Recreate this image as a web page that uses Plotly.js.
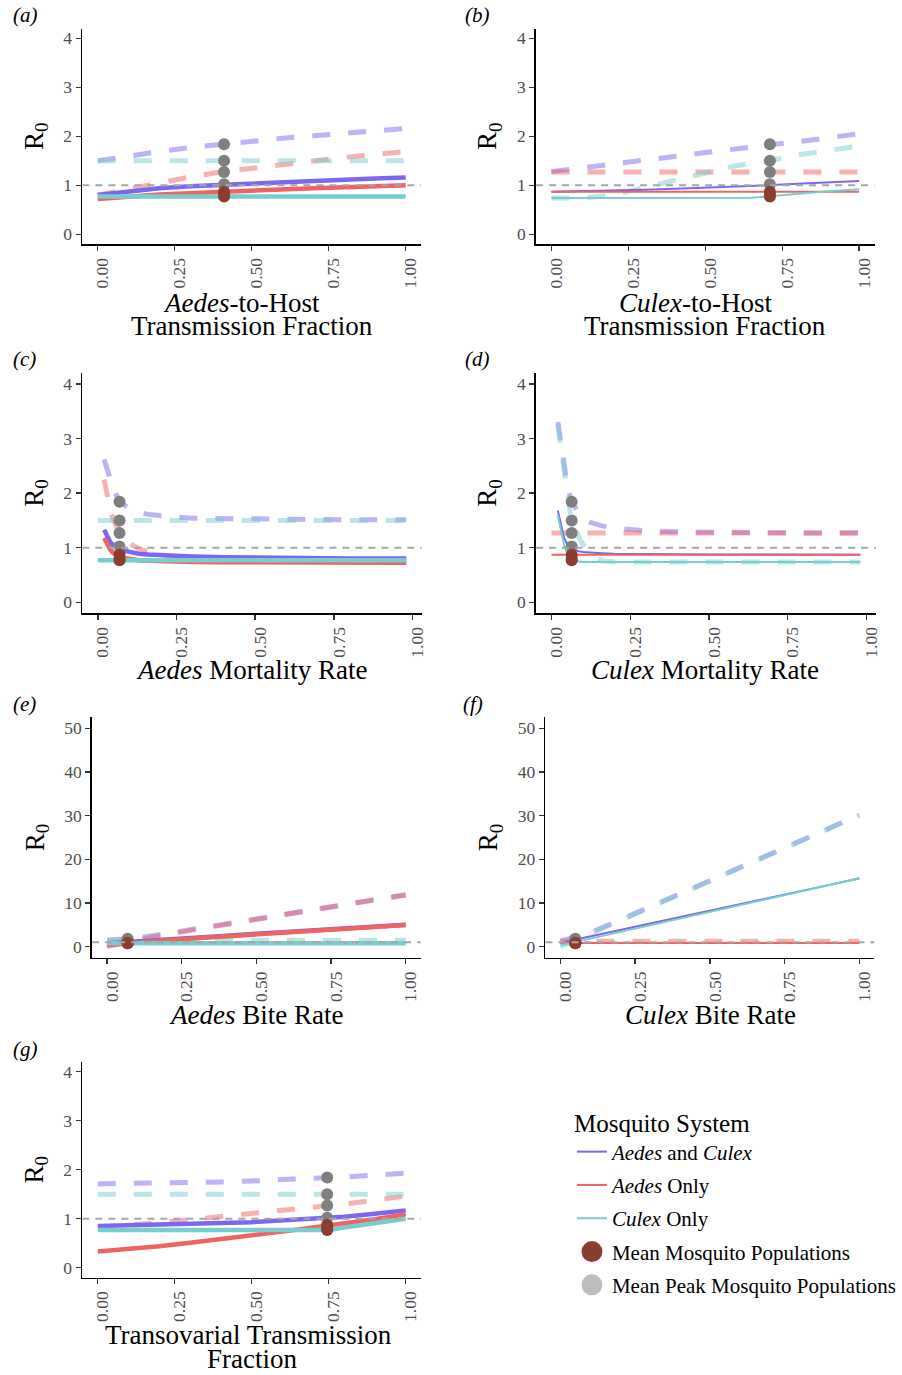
<!DOCTYPE html>
<html><head><meta charset="utf-8">
<script src="https://cdn.plot.ly/plotly-3.0.1.min.js"></script>
<style>html,body{margin:0;padding:0;background:#fff;} #chart{width:902px;height:1375px;}</style>
</head><body><div id="chart"></div>
<script>
// ---------------- DATA ----------------
const xTickVals = [0, 0.25, 0.5, 0.75, 1];
const yTicksR0 = [0, 1, 2, 3, 4];
const yTicksBite = [0, 10, 20, 30, 40, 50];
const thresholdR0 = 1;

const systemNames = ['<i>Aedes</i> and <i>Culex</i>', '<i>Aedes</i> Only', '<i>Culex</i> Only'];
const pointNames = ['Mean Mosquito Populations', 'Mean Peak Mosquito Populations'];
const panelLetters = ['(a)', '(b)', '(c)', '(d)', '(e)', '(f)', '(g)'];
const xTitleLines = [
  ['<i>Aedes</i>-to-Host', 'Transmission Fraction'],
  ['<i>Culex</i>-to-Host', 'Transmission Fraction'],
  ['<i>Aedes</i> Mortality Rate'],
  ['<i>Culex</i> Mortality Rate'],
  ['<i>Aedes</i> Bite Rate'],
  ['<i>Culex</i> Bite Rate'],
  ['Transovarial Transmission', 'Fraction']
];

// parameter value at which the reference points are drawn, one per panel
const defaultParam = [0.41, 0.71, 0.069, 0.064, 0.069, 0.05, 0.745];
const peakPointsR0 = [1.84, 1.50, 1.27, 1.02];
const meanPointsR0 = [0.87, 0.80, 0.77];

// (a) Aedes-to-host transmission fraction
const xA = [0, 0.1, 0.2, 0.3, 0.4, 0.5, 0.6, 0.7, 0.8, 0.9, 1.0];
const aBothMean  = [0.80, 0.88, 0.94, 0.98, 1.01, 1.04, 1.07, 1.10, 1.12, 1.14, 1.16];
const aAedesMean = [0.72, 0.77, 0.81, 0.84, 0.87, 0.89, 0.92, 0.94, 0.96, 0.98, 1.00];
const aCulexMean = [0.77, 0.77, 0.77, 0.77, 0.77, 0.77, 0.77, 0.77, 0.77, 0.77, 0.77];
const aBothPeak  = [1.50, 1.60, 1.69, 1.77, 1.84, 1.90, 1.96, 2.01, 2.06, 2.11, 2.16];
const aAedesPeak = [0.80, 0.93, 1.05, 1.17, 1.27, 1.35, 1.43, 1.50, 1.57, 1.63, 1.69];
const aCulexPeak = [1.50, 1.50, 1.50, 1.50, 1.50, 1.50, 1.50, 1.50, 1.50, 1.50, 1.50];

// (b) Culex-to-host transmission fraction
const xB = [0, 0.1, 0.2, 0.3, 0.4, 0.5, 0.6, 0.65, 0.7, 0.8, 0.9, 1.0];
const bBothMean  = [0.87, 0.88, 0.89, 0.91, 0.93, 0.95, 0.97, 0.985, 1.00, 1.03, 1.06, 1.09];
const bAedesMean = [0.87, 0.87, 0.87, 0.87, 0.87, 0.87, 0.87, 0.87, 0.87, 0.87, 0.87, 0.87];
const bCulexMean = [0.74, 0.74, 0.74, 0.74, 0.74, 0.74, 0.74, 0.745, 0.77, 0.83, 0.88, 0.92];
const bBothPeak  = [1.28, 1.36, 1.44, 1.51, 1.59, 1.67, 1.74, 1.78, 1.82, 1.89, 1.97, 2.05];
const bAedesPeak = [1.27, 1.27, 1.27, 1.27, 1.27, 1.27, 1.27, 1.27, 1.27, 1.27, 1.27, 1.27];
const bCulexPeak = [0.74, 0.74, 0.80, 0.95, 1.12, 1.27, 1.40, 1.45, 1.49, 1.62, 1.72, 1.80];

// (c) Aedes mortality rate
const xC = [0, 0.02, 0.03, 0.04, 0.05, 0.06, 0.07, 0.08, 0.10, 0.13, 0.16, 0.20, 0.25, 0.30, 0.40, 0.50, 0.60, 0.70, 0.80, 0.90, 0.98];
const cBothMean  = [null, 1.33, 1.20, 1.10, 1.04, 1.00, 0.97, 0.95, 0.92, 0.89, 0.875, 0.86, 0.85, 0.84, 0.825, 0.815, 0.81, 0.805, 0.80, 0.80, 0.80];
const cAedesMean = [null, 1.18, 1.05, 0.96, 0.90, 0.86, 0.83, 0.81, 0.79, 0.77, 0.76, 0.75, 0.745, 0.74, 0.735, 0.73, 0.73, 0.73, 0.725, 0.725, 0.725];
const cCulexMean = [0.77, 0.77, 0.77, 0.77, 0.77, 0.77, 0.77, 0.77, 0.77, 0.77, 0.77, 0.77, 0.77, 0.77, 0.77, 0.77, 0.77, 0.77, 0.77, 0.77, 0.77];
const cBothPeak  = [null, 2.62, 2.42, 2.22, 2.07, 1.95, 1.86, 1.80, 1.72, 1.65, 1.61, 1.58, 1.56, 1.54, 1.53, 1.52, 1.515, 1.51, 1.51, 1.51, 1.51];
const cAedesPeak = [null, 2.25, 1.95, 1.68, 1.50, 1.37, 1.27, 1.19, 1.08, 0.98, 0.92, 0.86, 0.82, 0.80, 0.77, 0.76, 0.75, 0.745, 0.74, 0.74, 0.74];
const cCulexPeak = [1.50, 1.50, 1.50, 1.50, 1.50, 1.50, 1.50, 1.50, 1.50, 1.50, 1.50, 1.50, 1.50, 1.50, 1.50, 1.50, 1.50, 1.50, 1.50, 1.50, 1.50];

// (d) Culex mortality rate
const xD = [0, 0.02, 0.03, 0.04, 0.05, 0.06, 0.07, 0.08, 0.09, 0.10, 0.12, 0.14, 0.16, 0.20, 0.25, 0.30, 0.40, 0.50, 0.60, 0.70, 0.80, 0.90, 0.98];
const dBothMean  = [null, 1.68, 1.40, 1.18, 1.06, 0.99, 0.96, 0.94, 0.93, 0.92, 0.91, 0.905, 0.90, 0.89, 0.885, 0.88, 0.88, 0.875, 0.875, 0.87, 0.87, 0.87, 0.87];
const dAedesMean = [0.87, 0.87, 0.87, 0.87, 0.87, 0.87, 0.87, 0.87, 0.87, 0.87, 0.87, 0.87, 0.87, 0.87, 0.87, 0.87, 0.87, 0.87, 0.87, 0.87, 0.87, 0.87, 0.87];
const dCulexMean = [null, 1.60, 1.30, 1.05, 0.88, 0.79, 0.76, 0.75, 0.745, 0.74, 0.74, 0.74, 0.74, 0.74, 0.74, 0.74, 0.74, 0.74, 0.74, 0.74, 0.74, 0.74, 0.74];
const dBothPeak  = [null, 3.30, 2.90, 2.50, 2.15, 1.92, 1.78, 1.68, 1.60, 1.54, 1.47, 1.43, 1.40, 1.36, 1.33, 1.31, 1.29, 1.28, 1.28, 1.27, 1.27, 1.27, 1.27];
const dAedesPeak = [1.27, 1.27, 1.27, 1.27, 1.27, 1.27, 1.27, 1.27, 1.27, 1.27, 1.27, 1.27, 1.27, 1.27, 1.27, 1.27, 1.27, 1.27, 1.27, 1.27, 1.27, 1.27, 1.27];
const dCulexPeak = [null, 3.25, 2.80, 2.35, 1.95, 1.62, 1.42, 1.27, 1.15, 1.06, 0.93, 0.82, 0.76, 0.74, 0.74, 0.74, 0.74, 0.74, 0.74, 0.74, 0.74, 0.74, 0.74];

// (e) Aedes bite rate
const xE = [0, 0.1, 0.2, 0.3, 0.4, 0.5, 0.6, 0.7, 0.8, 0.9, 1.0];
const eBothMean  = [0.77, 1.15, 1.60, 2.05, 2.50, 2.95, 3.40, 3.80, 4.20, 4.60, 5.05];
const eAedesMean = [0.30, 1.00, 1.50, 1.95, 2.40, 2.85, 3.30, 3.70, 4.10, 4.50, 4.95];
const eCulexMean = [0.77, 0.77, 0.77, 0.77, 0.77, 0.77, 0.77, 0.77, 0.77, 0.77, 0.77];
const eBothPeak  = [1.50, 1.95, 3.00, 4.10, 5.20, 6.40, 7.50, 8.60, 9.70, 10.80, 11.90];
const eAedesPeak = [0.00, 1.55, 2.80, 4.00, 5.15, 6.30, 7.45, 8.55, 9.65, 10.75, 11.80];
const eCulexPeak = [1.50, 1.50, 1.50, 1.50, 1.50, 1.50, 1.50, 1.50, 1.50, 1.50, 1.50];

// (f) Culex bite rate
const xF = [0, 0.1, 0.2, 0.3, 0.4, 0.5, 0.6, 0.7, 0.8, 0.9, 1.0];
const fBothMean  = [0.90, 2.30, 3.80, 5.30, 6.75, 8.20, 9.70, 11.15, 12.65, 14.15, 15.65];
const fAedesMean = [0.87, 0.87, 0.87, 0.87, 0.87, 0.87, 0.87, 0.87, 0.87, 0.87, 0.87];
const fCulexMean = [0.30, 1.85, 3.40, 4.90, 6.45, 8.00, 9.50, 11.05, 12.55, 14.10, 15.60];
const fBothPeak  = [1.27, 3.20, 6.10, 9.10, 12.10, 15.10, 18.10, 21.10, 24.10, 27.10, 30.15];
const fAedesPeak = [1.27, 1.27, 1.27, 1.27, 1.27, 1.27, 1.27, 1.27, 1.27, 1.27, 1.27];
const fCulexPeak = [0.00, 3.00, 6.00, 9.00, 12.00, 15.05, 18.05, 21.10, 24.10, 27.10, 30.10];

// (g) Transovarial transmission fraction
const xG = [0, 0.1, 0.2, 0.3, 0.4, 0.5, 0.6, 0.7, 0.75, 0.8, 0.9, 1.0];
const gBothMean  = [0.85, 0.86, 0.87, 0.89, 0.91, 0.93, 0.96, 0.99, 1.01, 1.04, 1.10, 1.17];
const gAedesMean = [0.33, 0.38, 0.44, 0.51, 0.58, 0.66, 0.74, 0.82, 0.86, 0.90, 0.99, 1.09];
const gCulexMean = [0.77, 0.77, 0.77, 0.77, 0.77, 0.77, 0.77, 0.77, 0.77, 0.82, 0.91, 1.00];
const gBothPeak  = [1.71, 1.715, 1.72, 1.735, 1.75, 1.77, 1.79, 1.82, 1.84, 1.85, 1.89, 1.93];
const gAedesPeak = [0.82, 0.86, 0.92, 0.98, 1.04, 1.10, 1.16, 1.22, 1.26, 1.30, 1.38, 1.46];
const gCulexPeak = [1.50, 1.50, 1.50, 1.50, 1.50, 1.50, 1.50, 1.50, 1.50, 1.50, 1.50, 1.50];

// ---------------- STYLE / LAYOUT ----------------
const W = 902, H = 1375;
const FONT = 'Liberation Serif, Times New Roman, serif';
const COL = ['#7B68EE', '#EE6363', '#79CDCD'];
const COL_DASH = ['rgba(123,104,238,0.5)', 'rgba(238,99,99,0.5)', 'rgba(121,205,205,0.5)'];
const GRAY_PT = '#7F7F7F', BROWN_PT = '#8B3E2F', GRAY_LEG = '#BEBEBE';

const panels = [
  {x: xA, mean: [aBothMean, aAedesMean, aCulexMean], peak: [aBothPeak, aAedesPeak, aCulexPeak], lw: 4.5,
   box: [83.4, 426.3, 28.5, 244.1], xr: [-0.05, 1.05], yr: [-0.2, 4.2], yt: yTicksR0, lab: [11, 29], tl: [[244.5, 313], [255, 336]]},
  {x: xB, mean: [bBothMean, bAedesMean, bCulexMean], peak: [bBothPeak, bAedesPeak, bCulexPeak], lw: 2,
   box: [542.7, 885.3, 28.5, 244.1], xr: [-0.05, 1.05], yr: [-0.2, 4.2], yt: yTicksR0, lab: [469, 29], tl: [[704, 313], [714, 336]]},
  {x: xC, mean: [cBothMean, cAedesMean, cCulexMean], peak: [cBothPeak, cAedesPeak, cCulexPeak], lw: 4.5,
   box: [83.4, 426.9, 373, 613.2], xr: [-0.049, 1.029], yr: [-0.2, 4.2], yt: yTicksR0, lab: [11, 373], tl: [[254.5, 680]]},
  {x: xD, mean: [dBothMean, dAedesMean, dCulexMean], peak: [dBothPeak, dAedesPeak, dCulexPeak], lw: 2,
   box: [542.7, 886.5, 373, 613.2], xr: [-0.049, 1.029], yr: [-0.2, 4.2], yt: yTicksR0, lab: [469, 373], tl: [[714, 680]]},
  {x: xE, mean: [eBothMean, eAedesMean, eCulexMean], peak: [eBothPeak, eAedesPeak, eCulexPeak], lw: 4.5,
   box: [93.2, 425.8, 717.4, 957.6], xr: [-0.05, 1.05], yr: [-2.5, 52.5], yt: yTicksBite, lab: [11, 718], tl: [[259, 1025]]},
  {x: xF, mean: [fBothMean, fAedesMean, fCulexMean], peak: [fBothPeak, fAedesPeak, fCulexPeak], lw: 2,
   box: [552.2, 885.1, 717.4, 957.6], xr: [-0.05, 1.05], yr: [-2.5, 52.5], yt: yTicksBite, lab: [467, 718], tl: [[719, 1025]]},
  {x: xG, mean: [gBothMean, gAedesMean, gCulexMean], peak: [gBothPeak, gAedesPeak, gCulexPeak], lw: 4.5,
   box: [83.4, 426.3, 1061.9, 1277.5], xr: [-0.05, 1.05], yr: [-0.2, 4.2], yt: yTicksR0, lab: [11, 1063], tl: [[252, 1345], [255, 1369]]}
];

const data = [];
const layout = {
  width: W, height: H, margin: {l: 0, r: 0, t: 0, b: 0},
  paper_bgcolor: '#fff', plot_bgcolor: 'rgba(0,0,0,0)',
  font: {family: FONT, color: '#000'},
  showlegend: true,
  annotations: [], shapes: [],
  legend: {
    x: 579 / W, xanchor: 'left', y: 1 - 1099 / H, yanchor: 'top',
    bgcolor: 'rgba(0,0,0,0)', borderwidth: 0,
    font: {family: FONT, size: 21, color: '#000'},
    title: {text: 'Mosquito System', font: {family: FONT, size: 25, color: '#000'}},
    traceorder: 'grouped', tracegroupgap: 3, itemwidth: 30
  }
};

panels.forEach((p, i) => {
  const n = i + 1;
  const xa = n === 1 ? 'x' : 'x' + n, ya = n === 1 ? 'y' : 'y' + n;
  const [l, r, t, b] = p.box;
  layout['xaxis' + (n === 1 ? '' : n)] = {
    domain: [l / W, r / W], range: p.xr, anchor: ya,
    showline: true, linecolor: '#000', linewidth: 1.8, mirror: false,
    ticks: 'outside', ticklen: 5, tickwidth: 1.4, tickcolor: '#333',
    tickvals: xTickVals, tickformat: '.2f', tickangle: -90, ticklabelshift: 5,
    tickfont: {family: FONT, size: 17.5, color: '#4D4D4D'},
    showgrid: false, zeroline: false, fixedrange: true
  };
  layout['yaxis' + (n === 1 ? '' : n)] = {
    domain: [1 - b / H, 1 - t / H], range: p.yr, anchor: xa,
    showline: true, linecolor: '#000', linewidth: 1.8,
    ticks: 'outside', ticklen: 5, tickwidth: 1.4, tickcolor: '#333',
    tickvals: p.yt,
    tickfont: {family: FONT, size: 17.5, color: '#4D4D4D'},
    showgrid: false, zeroline: false, fixedrange: true,
    title: {text: 'R<sub>0</sub>', font: {family: FONT, size: 27, color: '#000'}, standoff: 12}
  };
  // dashed: mean peak populations
  for (let s = 0; s < 3; s++) {
    data.push({x: p.x, y: p.peak[s], xaxis: xa, yaxis: ya, type: 'scatter', mode: 'lines',
      line: {color: COL_DASH[s], width: 5, dash: '18px,18px'}, showlegend: false, hoverinfo: 'skip', connectgaps: false});
  }
  // solid: mean populations
  for (let s = 0; s < 3; s++) {
    data.push({x: p.x, y: p.mean[s], xaxis: xa, yaxis: ya, type: 'scatter', mode: 'lines',
      line: {color: COL[s], width: p.lw}, showlegend: false, hoverinfo: 'skip', connectgaps: false});
  }
  // reference R0 = 1
  layout.shapes.push({type: 'line', xref: xa + ' domain', x0: 0, x1: 1, yref: ya, y0: thresholdR0, y1: thresholdR0,
    line: {color: '#A6A6A6', width: 2, dash: '7px,6px'}, layer: 'above'});
  // points at default parameter values
  data.push({x: peakPointsR0.map(() => defaultParam[i]), y: peakPointsR0, xaxis: xa, yaxis: ya, type: 'scatter', mode: 'markers',
    marker: {color: GRAY_PT, size: 12}, showlegend: false, hoverinfo: 'skip', cliponaxis: false});
  data.push({x: meanPointsR0.map(() => defaultParam[i]), y: meanPointsR0, xaxis: xa, yaxis: ya, type: 'scatter', mode: 'markers',
    marker: {color: BROWN_PT, size: 12}, showlegend: false, hoverinfo: 'skip', cliponaxis: false});
  // panel letter
  layout.annotations.push({text: '<i>' + panelLetters[i] + '</i>', xref: 'paper', yref: 'paper',
    x: p.lab[0] / W, y: 1 - p.lab[1] / H, xanchor: 'left', yanchor: 'bottom', showarrow: false,
    font: {family: FONT, size: 21, color: '#000'}});
  // x-axis title lines
  xTitleLines[i].forEach((txt, k) => {
    const [cx, base] = p.tl[k];
    layout.annotations.push({text: txt, xref: 'paper', yref: 'paper', x: cx / W, y: 1 - (base + 7) / H,
      xanchor: 'center', yanchor: 'bottom', showarrow: false, font: {family: FONT, size: 27, color: '#000'}});
  });
});

// legend entries
for (let s = 0; s < 3; s++) {
  data.push({x: [null], y: [null], type: 'scatter', mode: 'lines', name: systemNames[s], legendgroup: 'g' + s,
    line: {color: COL[s], width: 2}, showlegend: true, hoverinfo: 'skip'});
}
data.push({x: [null], y: [null], type: 'scatter', mode: 'markers', name: pointNames[0], legendgroup: 'g3',
  marker: {color: BROWN_PT, size: 16, line: {color: BROWN_PT, width: 5}}, showlegend: true, hoverinfo: 'skip'});
data.push({x: [null], y: [null], type: 'scatter', mode: 'markers', name: pointNames[1], legendgroup: 'g4',
  marker: {color: GRAY_LEG, size: 16, line: {color: GRAY_LEG, width: 5}}, showlegend: true, hoverinfo: 'skip'});

Plotly.newPlot('chart', data, layout, {staticPlot: true, displayModeBar: false});
</script></body></html>
